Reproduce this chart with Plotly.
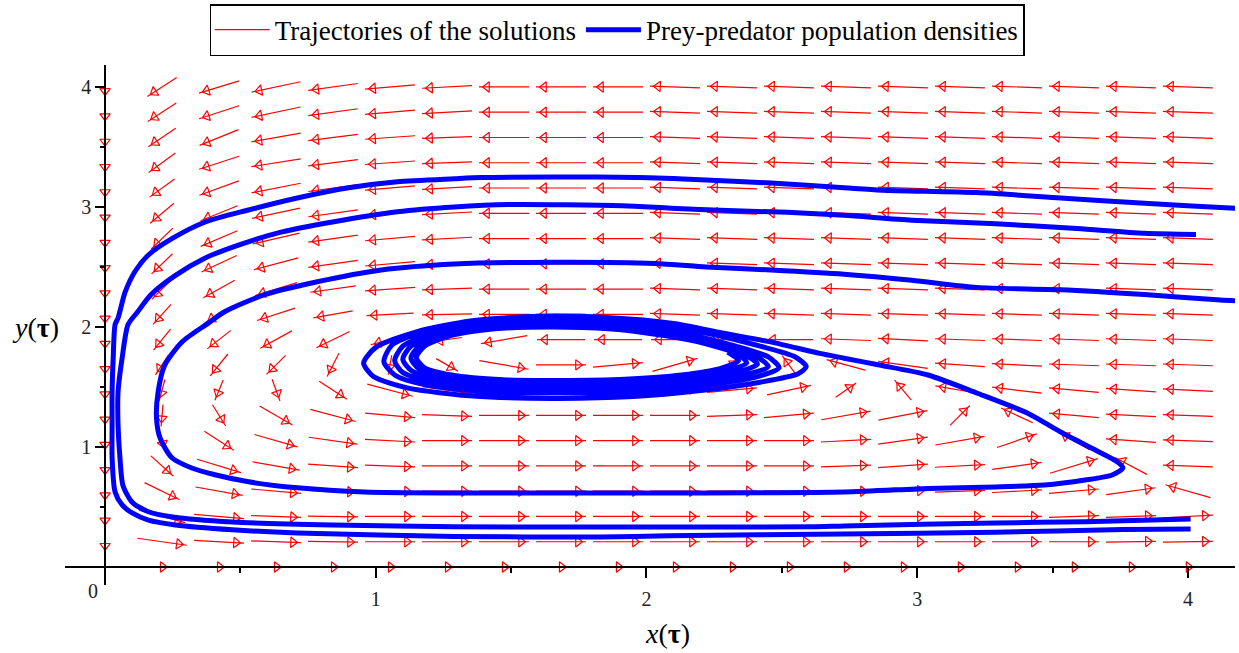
import math
import plotly.graph_objects as go

# ---------------- data ----------------
GRID_X = [0.0, 0.2105, 0.4211, 0.6316, 0.8421, 1.0526, 1.2632, 1.4737, 1.6842, 1.8947,
          2.1053, 2.3158, 2.5263, 2.7368, 2.9474, 3.1579, 3.3684, 3.5789, 3.7895, 4.0]
GRID_Y = [0.0, 0.2105, 0.4211, 0.6316, 0.8421, 1.0526, 1.2632, 1.4737, 1.6842, 1.8947,
          2.1053, 2.3158, 2.5263, 2.7368, 2.9474, 3.1579, 3.3684, 3.5789, 3.7895, 4.0]

# direction of each field arrow (degrees, counter-clockwise from +x), rows bottom -> top
ARROW_ANGLE = [
    [0, 0, 0, 0, 0, 0, 0, 0, 0, 0, 0, 0, 0, 0, 0, 0, 0, 0, 0, 0],
    [270, 352, 357, 358, 359, 0, 0, 0, 0, 0, 0, 0, 0, 0, 0, 0, 0, 0, 1, 1],
    [270, 345, 355, 358, 359, 0, 0, 0, 0, 0, 0, 0, 0, 0, 0, 0, 0, 2, 2, 3],
    [270, 334, 350, 355, 358, 359, 0, 0, 0, 0, 0, 0, 0, 0, 2, 2, 3, 5, 8, 164],
    [270, 318, 343, 350, 356, 358, 0, 0, 0, 0, 0, 0, 0, 2, 4, 3, 8, 17, 152, 178],
    [270, 285, 327, 344, 352, 357, 0, 0, 0, 0, 0, 0, 0, 3, 8, 10, 19, 150, 176, 178],
    [270, 265, 302, 330, 345, 355, 358, 0, 0, 0, 0, 2, 5, 10, 11, 45, 155, 175, 177, 178],
    [270, 255, 248, 290, 327, 345, 352, 0, 0, 2, 4, 5, 12, 35, 130, 170, 173, 175, 176, 177],
    [270, 237, 231, 225, 243, 260, 330, 350, 0, 5, 16, 39, 126, 165, 172, 176, 177, 178, 178, 178],
    [270, 231, 218, 209, 206, 195, 188, 190, 180, 180, 180, 180, 180, 178, 177, 178, 178, 178, 178, 178],
    [270, 228, 211, 198, 190, 183, 181, 180, 180, 180, 178, 178, 178, 178, 178, 178, 178, 178, 178, 178],
    [270, 225, 209, 197, 188, 184, 182, 180, 180, 180, 178, 178, 178, 178, 178, 178, 178, 178, 178, 178],
    [270, 224, 205, 195, 188, 185, 182, 180, 180, 180, 178, 178, 178, 178, 178, 178, 178, 178, 178, 178],
    [270, 224, 203, 193, 188, 185, 183, 180, 180, 180, 178, 178, 178, 178, 178, 178, 178, 178, 178, 178],
    [270, 220, 202, 192, 188, 185, 183, 180, 180, 180, 178, 178, 178, 178, 178, 178, 178, 178, 178, 178],
    [270, 216, 200, 191, 188, 185, 183, 180, 180, 180, 178, 178, 178, 178, 178, 178, 178, 178, 178, 178],
    [270, 216, 198, 189, 187, 184, 182, 180, 180, 180, 178, 178, 178, 178, 178, 178, 178, 178, 178, 178],
    [270, 214, 202, 190, 187, 184, 182, 180, 180, 180, 178, 178, 178, 178, 178, 178, 178, 178, 178, 178],
    [270, 213, 198, 192, 188, 185, 183, 180, 180, 180, 178, 178, 178, 178, 178, 178, 178, 178, 178, 178],
    [270, 213, 197, 192, 188, 185, 183, 180, 180, 180, 178, 178, 178, 178, 178, 178, 178, 178, 178, 178],
]
# drawn length of each field arrow (screen pixels), rows bottom -> top
ARROW_LEN = [
    [0, 14, 14, 14, 14, 14, 14, 14, 14, 14, 14, 14, 14, 14, 14, 14, 14, 14, 14, 14],
    [24, 50, 50, 50, 50, 50, 50, 50, 50, 50, 50, 50, 50, 50, 50, 50, 50, 50, 50, 50],
    [24, 48, 50, 50, 50, 50, 50, 50, 50, 50, 50, 50, 50, 50, 50, 50, 50, 50, 50, 50],
    [24, 39, 48, 50, 50, 50, 50, 50, 50, 50, 50, 50, 50, 50, 50, 50, 50, 50, 50, 47],
    [24, 30, 46, 48, 50, 50, 50, 50, 50, 50, 50, 50, 50, 50, 50, 50, 50, 50, 36, 50],
    [24, 22, 35, 45, 49, 50, 50, 50, 50, 50, 50, 50, 50, 50, 50, 50, 42, 35, 50, 50],
    [24, 22, 25, 38, 47, 50, 50, 50, 50, 50, 50, 50, 50, 50, 50, 28, 35, 50, 50, 50],
    [24, 22, 22, 23, 33, 47, 50, 50, 50, 50, 50, 50, 45, 25, 26, 50, 50, 50, 50, 50],
    [24, 24, 28, 27, 26, 20, 25, 50, 50, 50, 47, 20, 23, 40, 50, 50, 50, 50, 50, 50],
    [24, 27, 30, 36, 37, 40, 30, 47, 48, 48, 48, 48, 48, 50, 50, 50, 50, 50, 50, 50],
    [24, 27, 33, 40, 40, 47, 50, 50, 50, 50, 50, 50, 50, 50, 50, 50, 50, 50, 50, 50],
    [24, 29, 36, 44, 46, 50, 50, 50, 50, 50, 50, 50, 50, 50, 50, 50, 50, 50, 50, 50],
    [24, 29, 39, 46, 50, 50, 50, 50, 50, 50, 50, 50, 50, 50, 50, 50, 50, 50, 50, 50],
    [24, 30, 40, 48, 50, 50, 50, 50, 50, 50, 50, 50, 50, 50, 50, 50, 50, 50, 50, 50],
    [24, 31, 40, 49, 50, 50, 50, 50, 50, 50, 50, 50, 50, 50, 50, 50, 50, 50, 50, 50],
    [24, 31, 42, 50, 50, 50, 50, 50, 50, 50, 50, 50, 50, 50, 50, 50, 50, 50, 50, 50],
    [24, 33, 42, 50, 50, 50, 50, 50, 50, 50, 50, 50, 50, 50, 50, 50, 50, 50, 50, 50],
    [24, 33, 42, 50, 50, 50, 50, 50, 50, 50, 50, 50, 50, 50, 50, 50, 50, 50, 50, 50],
    [24, 34, 42, 50, 50, 50, 50, 50, 50, 50, 50, 50, 50, 50, 50, 50, 50, 50, 50, 50],
    [24, 35, 42, 50, 50, 50, 50, 50, 50, 50, 50, 50, 50, 50, 50, 50, 50, 50, 50, 50],
]

# solution curves (x(tau), y(tau))
TRAJ1_X = [4.25, 4.174, 3.84, 3.53, 3.22, 2.87, 2.73, 2.46, 2.22, 1.97, 1.66, 1.39, 1.29, 1.08, 0.90,
           0.71, 0.53, 0.37, 0.25, 0.16, 0.11, 0.074, 0.048, 0.037, 0.03, 0.026, 0.026, 0.026,
           0.037, 0.063, 0.10, 0.16, 0.26, 0.47, 0.71, 1.29, 1.83, 2.08, 2.73, 3.29, 3.76, 4.01]
TRAJ1_Y = [2.985, 2.99, 3.03, 3.075, 3.12, 3.14, 3.16, 3.2, 3.225, 3.245, 3.25, 3.245, 3.235, 3.21, 3.16,
           3.075, 2.975, 2.875, 2.74, 2.6, 2.46, 2.29, 2.075, 2.02, 1.74, 1.46, 1.18, 0.91,
           0.625, 0.517, 0.45, 0.39, 0.35, 0.31, 0.283, 0.255, 0.25, 0.26, 0.275, 0.29, 0.312, 0.317]

TRAJ2_X = [4.03, 3.84, 3.59, 3.29, 2.98, 2.73, 2.52, 2.30, 2.09, 1.91, 1.49, 1.29, 1.08, 0.84, 0.65,
           0.49, 0.37, 0.26, 0.17, 0.12, 0.085, 0.063, 0.048, 0.048, 0.055, 0.066, 0.10, 0.16,
           0.25, 0.47, 0.84, 1.29, 2.0, 2.61, 2.73, 3.29, 3.62, 4.01]
TRAJ2_Y = [2.77, 2.78, 2.82, 2.86, 2.89, 2.93, 2.955, 2.97, 2.99, 3.01, 3.02, 3.0, 2.96, 2.875, 2.79,
           2.68, 2.575, 2.43, 2.27, 2.125, 2.02, 1.74, 1.46, 1.18, 0.91, 0.68, 0.54, 0.46,
           0.417, 0.375, 0.35, 0.335, 0.333, 0.335, 0.342, 0.367, 0.378, 0.40]

TRAJ3_X = [4.25, 4.12, 3.84, 3.53, 3.22, 2.98, 2.73, 2.46, 2.22, 2.03, 1.66, 1.29, 1.02, 0.78, 0.59,
           0.44, 0.38, 0.284, 0.22, 0.196, 0.19, 0.203, 0.247, 0.32, 0.41, 0.53, 0.71, 0.96, 1.29,
           2.0, 2.73, 3.04, 3.29, 3.47, 3.62, 3.72, 3.76, 3.74, 3.67, 3.53, 3.41, 3.22, 3.04, 2.855,
           2.73, 2.64, 2.47, 2.28, 2.1, 1.85, 1.6, 1.35, 1.15, 1.0, 0.955, 0.99, 1.12, 1.36, 1.65,
           1.95, 2.2, 2.42, 2.56, 2.59,
           2.55, 2.42, 2.22, 1.95, 1.65, 1.38, 1.18, 1.06, 1.03, 1.07, 1.18, 1.4, 1.68, 1.95, 2.2,
           2.4, 2.49,
           2.45, 2.33, 2.15, 1.92, 1.65, 1.4, 1.21, 1.1, 1.07, 1.1, 1.2, 1.42, 1.68, 1.95, 2.18,
           2.36, 2.45,
           2.41, 2.29, 2.12, 1.9, 1.65, 1.42, 1.24, 1.13, 1.10, 1.13, 1.23, 1.44, 1.68, 1.94, 2.16,
           2.33, 2.41,
           2.37, 2.25, 2.08, 1.88, 1.65, 1.43, 1.26, 1.16, 1.13, 1.16, 1.26, 1.46, 1.68, 1.93, 2.14,
           2.3, 2.37,
           2.34, 2.22, 2.06, 1.86, 1.65, 1.44, 1.28, 1.18, 1.15, 1.18, 1.28, 1.47, 1.68, 1.92, 2.13,
           2.28, 2.34, 2.3]
TRAJ3_Y = [2.21, 2.225, 2.27, 2.31, 2.33, 2.39, 2.44, 2.475, 2.5, 2.53, 2.54, 2.525, 2.475, 2.375, 2.27,
           2.125, 2.03, 1.875, 1.68, 1.46, 1.24, 1.075, 0.91, 0.825, 0.767, 0.71, 0.66, 0.625, 0.617,
           0.617, 0.625, 0.655, 0.667, 0.683, 0.725, 0.767, 0.825, 0.875, 0.96, 1.125, 1.28, 1.45, 1.6, 1.685,
           1.74, 1.78, 1.87, 1.95, 2.03, 2.08, 2.09, 2.05, 1.96, 1.83, 1.70, 1.59, 1.49, 1.425, 1.405,
           1.42, 1.47, 1.54, 1.61, 1.67,
           1.75, 1.84, 1.95, 2.04, 2.07, 2.04, 1.96, 1.85, 1.71, 1.60, 1.52, 1.46, 1.45, 1.46, 1.51,
           1.58, 1.66,
           1.75, 1.84, 1.94, 2.02, 2.05, 2.02, 1.95, 1.84, 1.72, 1.62, 1.55, 1.49, 1.48, 1.49, 1.53,
           1.6, 1.67,
           1.75, 1.84, 1.93, 2.0, 2.03, 2.0, 1.94, 1.84, 1.73, 1.64, 1.57, 1.52, 1.51, 1.52, 1.56,
           1.62, 1.69,
           1.76, 1.85, 1.93, 1.99, 2.01, 1.99, 1.93, 1.84, 1.74, 1.65, 1.59, 1.54, 1.535, 1.545, 1.58,
           1.64, 1.7,
           1.77, 1.86, 1.93, 1.985, 2.0, 1.985, 1.93, 1.84, 1.745, 1.66, 1.6, 1.56, 1.555, 1.565, 1.6,
           1.66, 1.72, 1.79]

TICKS = [1, 2, 3, 4]
TICK_TEXT = ["1", "2", "3", "4"]
MINOR_TICKS = [0.5, 1.5, 2.5, 3.5]

# ---------------- layout geometry ----------------
W, H = 1239, 653
ML, MR, MT, MB = 65, 4, 65, 68
XR = [-0.148, 4.174]
YR = [-0.15, 4.183]
PXX = (W - ML - MR) / (XR[1] - XR[0])
PXY = (H - MT - MB) / (YR[1] - YR[0])

RED = "rgb(255,0,0)"
BLUE = "rgb(0,0,255)"
SERIF = "Liberation Serif, Times New Roman, serif"

shaft_x, shaft_y = [], []
head_x, head_y, head_a = [], [], []
for j, yv in enumerate(GRID_Y):
    for i, xv in enumerate(GRID_X):
        L = ARROW_LEN[j][i]
        if L <= 0:
            continue
        ang = ARROW_ANGLE[j][i]
        a = math.radians(ang)
        ux, uy = math.cos(a) / PXX, math.sin(a) / PXY
        x0, y0 = xv - 0.5 * L * ux, yv - 0.5 * L * uy
        x1, y1 = xv + 0.5 * L * ux, yv + 0.5 * L * uy
        shaft_x += [x0, x1, None]
        shaft_y += [y0, y1, None]
        hd = min(8, 0.45 * L)
        head_x.append(x1 - hd * ux)
        head_y.append(y1 - hd * uy)
        head_a.append(-ang)

fig = go.Figure()
fig.add_trace(go.Scatter(
    x=shaft_x, y=shaft_y, mode="lines",
    line=dict(color=RED, width=1.2),
    name="Trajectories of the solutions", showlegend=True, hoverinfo="skip"))
fig.add_trace(go.Scatter(
    x=head_x, y=head_y, mode="markers",
    marker=dict(symbol="triangle-right-open", size=9, angle=head_a,
                color=RED, line=dict(color=RED, width=1.2)),
    showlegend=False, hoverinfo="skip"))

for k, (tx, ty) in enumerate([(TRAJ1_X, TRAJ1_Y), (TRAJ2_X, TRAJ2_Y), (TRAJ3_X, TRAJ3_Y)]):
    fig.add_trace(go.Scatter(
        x=tx, y=ty, mode="lines",
        line=dict(color=BLUE, width=5, shape="spline", smoothing=0.7),
        name="Prey-predator population densities",
        legendgroup="blue", showlegend=(k == 0), hoverinfo="skip"))

px0 = (0 - XR[0]) / (XR[1] - XR[0])
py0 = (0 - YR[0]) / (YR[1] - YR[0])

fig.update_layout(
    width=W, height=H,
    margin=dict(l=ML, r=MR, t=MT, b=MB),
    paper_bgcolor="white", plot_bgcolor="white",
    font=dict(family=SERIF, color="black"),
    xaxis=dict(range=XR, anchor="free", position=py0, showgrid=False, zeroline=False,
               showline=True, linecolor="black", linewidth=1.5,
               tickmode="array", tickvals=TICKS, ticktext=TICK_TEXT,
               ticks="outside", ticklen=10, tickwidth=1.5, tickcolor="black",
               ticklabelstandoff=4,
               minor=dict(tickvals=MINOR_TICKS, ticks="outside", ticklen=5, tickcolor="black"),
               tickfont=dict(family=SERIF, size=20, color="#222")),
    yaxis=dict(range=YR, anchor="free", position=px0, showgrid=False, zeroline=False,
               showline=True, linecolor="black", linewidth=1.5,
               tickmode="array", tickvals=TICKS, ticktext=TICK_TEXT,
               ticks="outside", ticklen=9, tickwidth=1.5, tickcolor="black",
               minor=dict(tickvals=MINOR_TICKS, ticks="outside", ticklen=4, tickcolor="black"),
               tickfont=dict(family=SERIF, size=20, color="#222")),
    legend=dict(orientation="h", x=0.472, xanchor="center", y=1.067, yanchor="middle",
                bordercolor="black", borderwidth=1.5, bgcolor="white",
                font=dict(family=SERIF, size=27, color="black"),
                itemwidth=55, tracegroupgap=0),
    annotations=[
        dict(x=0, y=0, xref="x", yref="y", text="0", showarrow=False,
             xshift=-12, yshift=-24, font=dict(family=SERIF, size=20, color="#222")),
        dict(x=0.515, y=-0.094, xref="paper", yref="paper", text="<i>x</i>(<b>τ</b>)",
             showarrow=False, xanchor="center", yanchor="middle",
             font=dict(family=SERIF, size=28, color="black")),
        dict(x=-0.025, y=0.496, xref="paper", yref="paper", text="<i>y</i>(<b>τ</b>)",
             showarrow=False, xanchor="center", yanchor="middle",
             font=dict(family=SERIF, size=28, color="black")),
    ],
)

fig.write_html("out.html")
